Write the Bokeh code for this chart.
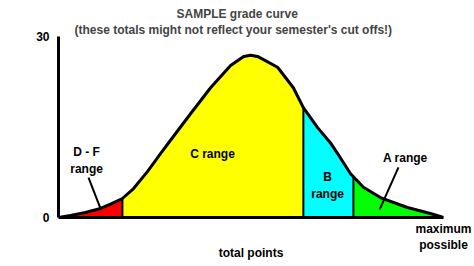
import numpy as np
from bokeh.plotting import figure
from bokeh.models import FixedTicker, Label, Title
from bokeh.core.properties import value
from bokeh.embed import file_html
from bokeh.resources import INLINE

# Grade curve: score (% of maximum possible) vs. number of students at that score
score = [0, 3.1, 7.0, 10.9, 13.5, 16.6, 19.5, 23.1, 26.5, 29.1, 34.3, 39.5, 44.7,
         48.1, 49.9, 51.7, 56.9, 61.0, 63.6, 67.3, 70.6, 72.5, 75.8, 79.2, 83.6,
         90.6, 96.6, 100]
students = [0, 0.33, 0.83, 1.5, 2.2, 3.15, 4.8, 7.6, 10.6, 12.8, 17.2, 21.5, 25.2,
            26.7, 26.9, 26.7, 24.9, 21.5, 18.2, 14.9, 12.4, 10.6, 7.3, 5.0, 3.3,
            1.66, 0.66, 0]

# Grade bands and their cut offs along the score axis
grades = ["D - F", "C", "B", "A"]
band_labels = ["D - F\nrange", "C range", "B\nrange", "A range"]
cut_offs = [0, 16.6, 63.6, 76.6, 100]
band_colors = ["#ff0000", "#ffff00", "#00ffff", "#00ff00"]

y_ticks = [0, 30]
x_ticks = [100]
x_tick_labels = {100: "maximum\npossible"}

FONT = "Liberation Sans"
FS = "12px"

p = figure(width=474, height=266, x_range=(0, 100), y_range=(0, 30),
           output_backend="svg", toolbar_location=None, title=None,
           min_border_left=58, min_border_right=31, min_border_top=36,
           min_border_bottom=49)
p.outline_line_color = None
p.grid.visible = False
p.background_fill_color = "white"
p.border_fill_color = "white"

# Titles (first added sits closest to the plot)
p.add_layout(Title(text="(these totals might not reflect your semester's cut offs!)",
                   align="left", text_font=FONT, text_font_size=FS,
                   text_font_style="bold", standoff=0, offset=16), "above")
p.add_layout(Title(text="SAMPLE grade curve", align="left", text_font=FONT,
                   text_font_size=FS, text_font_style="bold", standoff=0,
                   offset=118), "above")

# Filled grade bands under the curve
for lo, hi, color in zip(cut_offs[:-1], cut_offs[1:], band_colors):
    xs = [lo] + [s for s in score if lo < s < hi] + [hi]
    ys = np.interp(xs, score, students)
    p.varea(x=xs, y1=0, y2=ys, fill_color=color, fill_alpha=1)

# Dividers between bands
inner = cut_offs[1:-1]
p.segment(x0=inner, y0=0, x1=inner, y1=np.interp(inner, score, students),
          line_color="black", line_width=2)

# Curve outline
p.line(score, students, line_color="black", line_width=3, line_join="round")

# Band labels
label_x = [7.3, 40.0, 69.9, 90.1]
label_y = [9.4, 10.6, 5.3, 9.9]
p.text(x=label_x, y=label_y, text=band_labels, text_align="center",
       text_baseline="middle", text_font=value(FONT), text_font_size=FS,
       text_font_style="bold", text_color="black")

# Pointers from the side labels into their narrow bands
p.segment(x0=[7.8, 88.3], y0=[6.6, 8.3], x1=[10.9, 83.4], y1=[1.5, 1.3],
          line_color="black", line_width=2)

# Axes
p.xaxis.ticker = FixedTicker(ticks=x_ticks)
p.xaxis.major_label_overrides = x_tick_labels
p.yaxis.ticker = FixedTicker(ticks=y_ticks)
for ax in (p.xaxis, p.yaxis):
    ax.major_tick_line_color = None
    ax.minor_tick_line_color = None
    ax.axis_line_width = 3
    ax.axis_line_color = "black"
    ax.major_label_text_font = FONT
    ax.major_label_text_font_size = FS
    ax.major_label_text_font_style = "bold"
    ax.major_label_text_color = "black"
    ax.axis_label_text_font = FONT
    ax.axis_label_text_font_size = FS
    ax.axis_label_text_font_style = "bold"
    ax.axis_label_text_color = "black"
p.yaxis.major_label_standoff = 3
p.xaxis.major_label_standoff = -2
p.xaxis.axis_label = "total points"
p.xaxis.axis_label_standoff = -9

p.add_layout(Label(x=-8.2, y=18.1, text="# of students\n(frequency)", angle=np.pi / 2,
                   text_align="center", text_baseline="middle", text_font=FONT,
                   text_font_size=FS, text_font_style="bold", text_color="black"))

open("out.html", "w").write(file_html(p, INLINE))
